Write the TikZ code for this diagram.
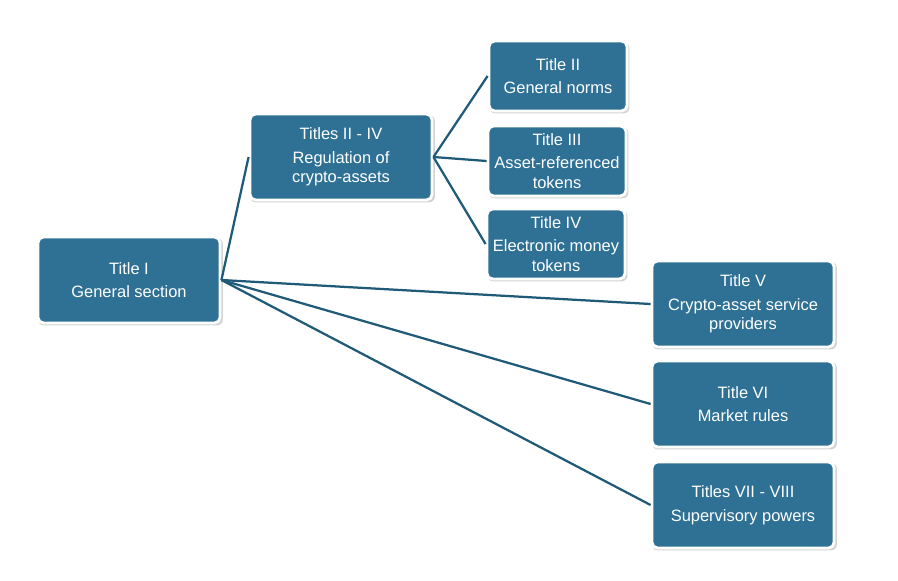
\documentclass[tikz,border=0pt]{standalone}
\usepackage{fontspec}
\setmainfont{Liberation Sans}
\usetikzlibrary{shadows}
\definecolor{boxblue}{HTML}{2E7195}
\definecolor{linkblue}{HTML}{1F5A78}

\begin{document}
\begin{tikzpicture}[x=0.025cm,y=-0.025cm,
    titlebox/.style={draw=white,line width=2pt,fill=boxblue,rounded corners=4pt,
      text=white,align=center,font=\fontsize{11.7}{13.8}\selectfont,inner sep=2pt,
      drop shadow={shadow xshift=1pt,shadow yshift=-1.2pt,shadow scale=1.015,opacity=.35}},
    bigbox/.style={titlebox,minimum width=4.55cm,minimum height=2.15cm},
    smallbox/.style={titlebox,minimum width=3.45cm,minimum height=1.75cm},
    link/.style={draw=linkblue,line width=1.6pt}]
  \useasboundingbox (0,0) rectangle (898,580);
  \node[bigbox] (gen) at (129,280) {Title I\\[3pt] General section};
  \node[bigbox] (reg) at (341,157) {Titles II - IV\\[3pt] Regulation of\\ crypto-assets};
  \node[smallbox] (norms) at (558,76) {Title II\\[3pt] General norms};
  \node[smallbox] (art) at (557,161) {Title III\\[3pt] Asset-referenced\\ tokens};
  \node[smallbox] (emt) at (556,244) {Title IV\\[3pt] Electronic money\\ tokens};
  \node[bigbox] (casp) at (743,304) {Title V\\[3pt] Crypto-asset service\\ providers};
  \node[bigbox] (market) at (743,404) {Title VI\\[3pt] Market rules};
  \node[bigbox] (super) at (743,505) {Titles VII - VIII\\[3pt] Supervisory powers};
  % links
  \foreach \to in {reg,casp,market,super}
    \draw[link] (gen.east) -- (\to.west);
  \foreach \to in {norms,art,emt}
    \draw[link] (reg.east) -- (\to.west);
\end{tikzpicture}
\end{document}
